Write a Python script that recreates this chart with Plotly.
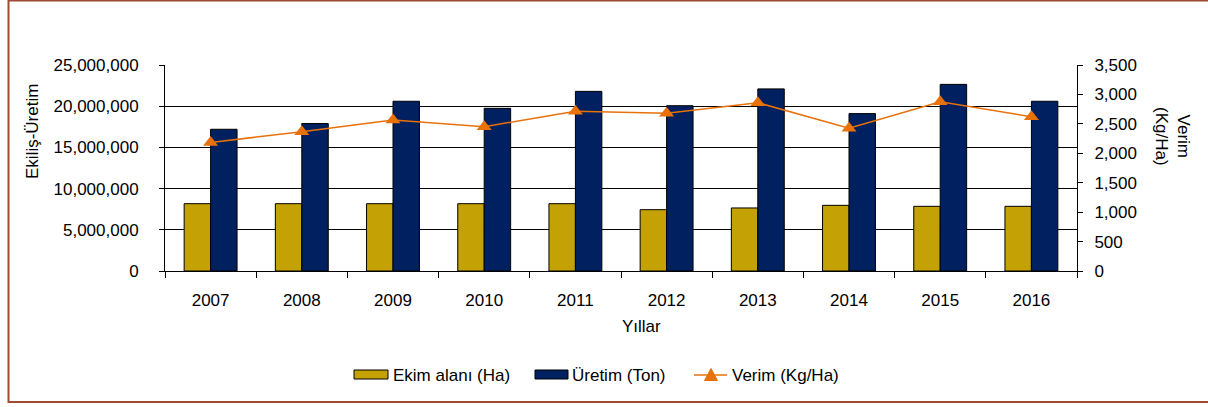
import plotly.graph_objects as go

years = ["2007", "2008", "2009", "2010", "2011", "2012", "2013", "2014", "2015", "2016"]
ekim_alani = [8170000, 8170000, 8170000, 8170000, 8170000, 7440000, 7650000, 7970000, 7850000, 7850000]
uretim = [17200000, 17900000, 20600000, 19740000, 21800000, 20060000, 22100000, 19100000, 22650000, 20600000]
verim = [2183, 2367, 2566, 2452, 2713, 2679, 2860, 2424, 2877, 2622]

W, H = 1208, 407
L, R, T, B = 165, 1077, 65, 271
FONT = "Liberation Sans, Arial, sans-serif"
FS = 17

YELLOW = "#C4A206"
BLUE = "#00205F"
ORANGE = "#E8710A"
BORDER = "#9E4B32"


def px(x):
    return (x - L) / (R - L)


def py(y):
    return (B - y) / (B - T)


fig = go.Figure()
fig.add_trace(go.Bar(x=years, y=ekim_alani, name="Ekim alanı (Ha)",
                     marker=dict(color=YELLOW, line=dict(color="#000", width=1)),
                     showlegend=False))
fig.add_trace(go.Bar(x=years, y=uretim, name="Üretim (Ton)",
                     marker=dict(color=BLUE, line=dict(color="#000", width=1)),
                     showlegend=False))
fig.add_trace(go.Scatter(x=years, y=verim, name="Verim (Kg/Ha)", yaxis="y2",
                         mode="lines+markers",
                         line=dict(color=ORANGE, width=1.5),
                         marker=dict(symbol="triangle-up", size=13, color=ORANGE),
                         showlegend=False))

fig.update_layout(
    width=W, height=H,
    margin=dict(l=L, r=W - R, t=T, b=H - B),
    paper_bgcolor="white", plot_bgcolor="white",
    font=dict(family=FONT, size=FS, color="#000"),
    barmode="group", bargap=0.42, bargroupgap=0,
    xaxis=dict(range=[-0.5, len(years) - 0.5], autorange=False,
               showline=True, linecolor="#000", linewidth=1,
               ticks="outside", tickson="boundaries", ticklen=6, tickcolor="#000",
               ticklabelstandoff=14, showgrid=False, mirror=False),
    yaxis=dict(range=[0, 25000000], dtick=5000000, tickformat=",",
               showline=True, linecolor="#000", linewidth=1,
               ticks="outside", ticklen=5, tickcolor="#000",
               showgrid=True, gridcolor="#000", gridwidth=1,
               ticklabelstandoff=17, zeroline=False),
    yaxis2=dict(range=[0, 3500], dtick=500, tickformat=",", overlaying="y", side="right",
                showline=True, linecolor="#000", linewidth=1,
                ticks="outside", ticklen=5, tickcolor="#000",
                showgrid=False, zeroline=False, ticklabelstandoff=8),
)

annotations = [
    dict(text="Yıllar", x=px(641), y=py(326), xref="paper", yref="paper",
         showarrow=False, xanchor="center", yanchor="middle"),
    dict(text="Ekiliş-Üretim", x=px(32), y=py(132), xref="paper", yref="paper",
         showarrow=False, textangle=-90, xanchor="center", yanchor="middle"),
    dict(text="Verim<br>(Kg/Ha)", x=px(1173), y=py(136), xref="paper", yref="paper",
         showarrow=False, textangle=90, xanchor="center", yanchor="middle"),
    dict(text="Ekim alanı (Ha)", x=px(391), y=py(375), xref="paper", yref="paper",
         showarrow=False, xanchor="left", yanchor="middle"),
    dict(text="Üretim (Ton)", x=px(570), y=py(375), xref="paper", yref="paper",
         showarrow=False, xanchor="left", yanchor="middle"),
    dict(text="Verim (Kg/Ha)", x=px(730), y=py(375), xref="paper", yref="paper",
         showarrow=False, xanchor="left", yanchor="middle"),
]
fig.update_layout(annotations=annotations)

shapes = [
    dict(type="rect", xref="paper", yref="paper", x0=px(8.5), x1=px(1212), y0=py(402), y1=py(0.5),
         line=dict(color=BORDER, width=2), fillcolor="rgba(0,0,0,0)", layer="below"),
    dict(type="rect", xref="paper", yref="paper", x0=px(354), x1=px(388), y0=py(379), y1=py(370),
         line=dict(color="#000", width=1), fillcolor=YELLOW),
    dict(type="rect", xref="paper", yref="paper", x0=px(535), x1=px(568), y0=py(379), y1=py(370),
         line=dict(color="#000", width=1), fillcolor=BLUE),
    dict(type="line", xref="paper", yref="paper", x0=px(694), x1=px(727), y0=py(375), y1=py(375),
         line=dict(color=ORANGE, width=1.5)),
    dict(type="path", xref="paper", yref="paper",
         path="M {} {} L {} {} L {} {} Z".format(px(704.5), py(380.5), px(717.5), py(380.5), px(711), py(368.5)),
         line=dict(color=ORANGE, width=1), fillcolor=ORANGE),
]
fig.update_layout(shapes=shapes)

fig.write_html("out.html", config={"displayModeBar": False},
               post_script="document.body.style.margin='0';document.body.style.padding='0';document.body.style.overflow='hidden';")
